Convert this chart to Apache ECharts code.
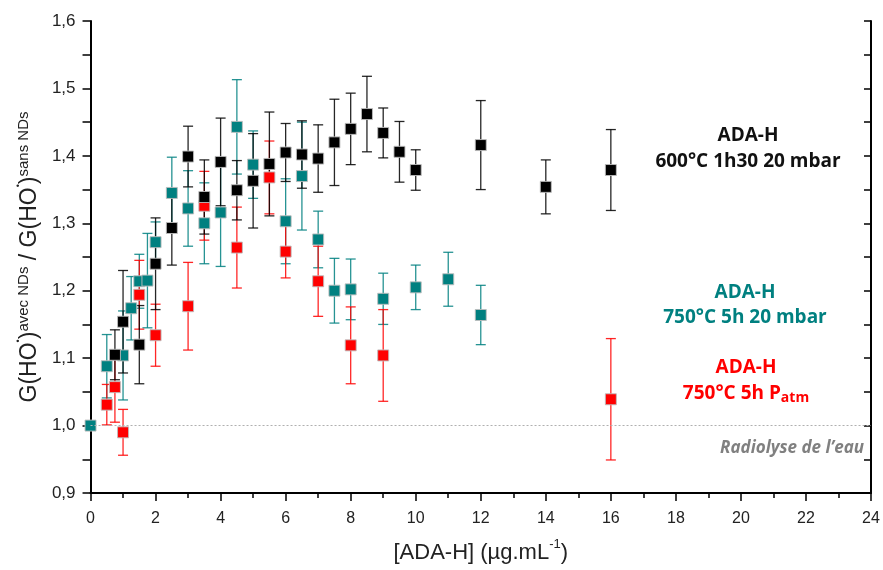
<!DOCTYPE html>
<html>
<head>
<meta charset="utf-8">
<script src="https://cdn.jsdelivr.net/npm/echarts@6/dist/echarts.min.js"></script>
<style>html,body{margin:0;padding:0;background:#fff}#c{width:883px;height:570px}</style>
</head>
<body>
<div id="c"></div>
<script>
// ---- Data (x = [ADA-H] µg/mL, y = ratio, e = error half-width) ----
var blackX = [0.75, 1, 1.5, 2, 2.5, 3, 3.5, 4, 4.5, 5, 5.5, 6, 6.5, 7, 7.5, 8, 8.5, 9, 9.5, 10, 12, 14, 16];
var blackY = [1.105, 1.154, 1.120, 1.240, 1.293, 1.399, 1.339, 1.391, 1.349, 1.363, 1.388, 1.405, 1.402, 1.396, 1.420, 1.440, 1.462, 1.434, 1.406, 1.379, 1.416, 1.354, 1.379];
var blackE = [0.037, 0.076, 0.058, 0.068, 0.055, 0.045, 0.055, 0.065, 0.044, 0.070, 0.077, 0.043, 0.050, 0.050, 0.064, 0.053, 0.056, 0.037, 0.045, 0.030, 0.066, 0.040, 0.060];

var tealX = [0, 0.5, 1, 1.25, 1.5, 1.75, 2, 2.5, 3, 3.5, 4, 4.5, 5, 6, 6.5, 7, 7.5, 8, 9, 10, 11, 12];
var tealY = [1.000, 1.088, 1.104, 1.174, 1.214, 1.215, 1.272, 1.345, 1.322, 1.300, 1.316, 1.443, 1.387, 1.303, 1.370, 1.276, 1.200, 1.202, 1.188, 1.205, 1.217, 1.164];
var tealE = [0.000, 0.047, 0.066, 0.047, 0.040, 0.070, 0.030, 0.053, 0.056, 0.060, 0.080, 0.070, 0.050, 0.063, 0.080, 0.042, 0.048, 0.045, 0.038, 0.033, 0.040, 0.044];

var redX = [0.5, 0.75, 1, 1.5, 2, 3, 3.5, 4.5, 5.5, 6, 7, 8, 9, 16];
var redY = [1.031, 1.057, 0.990, 1.194, 1.134, 1.177, 1.326, 1.264, 1.368, 1.258, 1.214, 1.119, 1.104, 1.039];
var redE = [0.030, 0.052, 0.034, 0.051, 0.046, 0.065, 0.051, 0.060, 0.054, 0.039, 0.052, 0.057, 0.068, 0.090];

var xTicks = [0, 2, 4, 6, 8, 10, 12, 14, 16, 18, 20, 22, 24];
var yTicks = [0.9, 1.0, 1.1, 1.2, 1.3, 1.4, 1.5, 1.6];
var waterRef = 1.0;

var cBlack = '#000000', cTeal = '#008080', cRed = '#ff0000';

function zip(xs, ys, es) { return xs.map(function (x, i) { return [x, ys[i], es[i]]; }); }

function errRender(color) {
  return function (params, api) {
    var x = api.value(0), y = api.value(1), e = api.value(2);
    if (!e) return null;
    var t = api.coord([x, y + e]), b = api.coord([x, y - e]);
    var w = 5;
    var st = { stroke: color, lineWidth: 1.3, opacity: 0.85 };
    return { type: 'group', children: [
      { type: 'line', shape: { x1: t[0], y1: t[1], x2: b[0], y2: b[1] }, style: st },
      { type: 'line', shape: { x1: t[0] - w, y1: t[1], x2: t[0] + w, y2: t[1] }, style: st },
      { type: 'line', shape: { x1: b[0] - w, y1: b[1], x2: b[0] + w, y2: b[1] }, style: st }
    ]};
  };
}

function errSeries(name, data, color) {
  return { name: name + ' err', type: 'custom', data: data, encode: { x: 0, y: 1 }, renderItem: errRender(color), silent: true, z: 2 };
}
function markSeries(name, data, color) {
  return { name: name, type: 'scatter', data: data, symbol: 'rect', symbolSize: 11,
    itemStyle: { color: color, borderColor: 'rgba(190,190,190,0.9)', borderWidth: 1, opacity: 1 }, z: 3 };
}

var fmtY = function (v) { return v.toFixed(1).replace('.', ','); };
var labelFont = 'Liberation Sans';
var annFont = 'Open Sans';

var chart = echarts.init(document.getElementById('c'), null, { renderer: 'canvas' });
var option = {
  animation: false,
  backgroundColor: '#fff',
  grid: { left: 90, right: 12, top: 21, bottom: 76, containLabel: false },
  xAxis: {
    type: 'value', min: 0, max: 24, interval: 2,
    name: '{t|[ADA-H] (µg.mL}{s|-1}{t|)}', nameLocation: 'middle', nameGap: 39,
    nameTextStyle: { rich: {
      t: { fontFamily: labelFont, fontSize: 22, lineHeight: 24, color: '#222', verticalAlign: 'top', padding: [10, 0, 0, 0] },
      s: { fontFamily: labelFont, fontSize: 13, lineHeight: 14, color: '#222', verticalAlign: 'top', padding: [6, 0, 14, 0] }
    } },
    axisLine: { onZero: false, lineStyle: { color: '#000', width: 2 } },
    axisTick: { show: true, inside: false, length: 8, lineStyle: { color: '#000', width: 1.5 } },
    minorTick: { show: true, splitNumber: 2, length: 5, lineStyle: { color: '#000', width: 1.5 } },
    axisLabel: { margin: 18, fontFamily: labelFont, fontSize: 16, color: '#222' },
    splitLine: { show: false }
  },
  yAxis: [{
    type: 'value', min: 0.9, max: 1.6, interval: 0.1, position: 'left',
    name: '{t|G(HO}{d|•}{t|)}{s|avec NDs}{t| / G(HO}{d|•}{t|)}{s|sans NDs}',
    nameLocation: 'middle', nameGap: 47, nameRotate: 90,
    nameTextStyle: { rich: {
      t: { fontFamily: labelFont, fontSize: 23, lineHeight: 24, color: '#222', verticalAlign: 'top', padding: [10, 0, 0, 0] },
      d: { fontFamily: labelFont, fontSize: 9, lineHeight: 10, color: '#222', verticalAlign: 'top', padding: [6, 0, 18, 0] },
      s: { fontFamily: labelFont, fontSize: 15, lineHeight: 16, color: '#222', verticalAlign: 'top', padding: [8, 0, 10, 0] }
    } },
    axisLine: { show: true, onZero: false, lineStyle: { color: '#000', width: 2 } },
    axisTick: { show: true, inside: false, length: 8, lineStyle: { color: '#000', width: 1.5 } },
    minorTick: { show: true, splitNumber: 2, length: 8, lineStyle: { color: '#000', width: 1.5 } },
    axisLabel: { margin: 15, fontFamily: labelFont, fontSize: 17, color: '#222', formatter: fmtY },
    splitLine: { show: false }
  }, {
    type: 'value', min: 0.9, max: 1.6, interval: 0.1, position: 'right',
    axisLine: { show: true, onZero: false, lineStyle: { color: '#000', width: 2 } },
    axisTick: { show: true, inside: true, length: 7, lineStyle: { color: '#000', width: 1.5 } },
    minorTick: { show: true, splitNumber: 2, length: 7, lineStyle: { color: '#000', width: 1.5 } },
    axisLabel: { show: false },
    splitLine: { show: false }
  }],
  series: [
    { name: 'ref', type: 'line', data: [], markLine: { silent: true, symbol: 'none', label: { show: false },
        lineStyle: { color: '#b0b0b0', type: [2, 2], width: 1 }, data: [{ yAxis: waterRef }] }, z: 1 },
    errSeries('teal', zip(tealX, tealY, tealE), cTeal),
    markSeries('ADA-H 750°C 5h 20 mbar', zip(tealX, tealY, tealE), cTeal),
    errSeries('red', zip(redX, redY, redE), cRed),
    markSeries('ADA-H 750°C 5h Patm', zip(redX, redY, redE), cRed),
    errSeries('black', zip(blackX, blackY, blackE), cBlack),
    markSeries('ADA-H 600°C 1h30 20 mbar', zip(blackX, blackY, blackE), cBlack)
  ],
  graphic: [
    { type: 'text', x: 748, y: 136, style: { text: 'ADA-H', fill: '#111', font: 'bold 19px "Open Sans"', align: 'center', verticalAlign: 'middle' } },
    { type: 'text', x: 748, y: 162, style: { text: '600°C 1h30 20 mbar', fill: '#111', font: 'bold 19px "Open Sans"', align: 'center', verticalAlign: 'middle' } },
    { type: 'text', x: 745, y: 293, style: { text: 'ADA-H', fill: cTeal, font: 'bold 19px "Open Sans"', align: 'center', verticalAlign: 'middle' } },
    { type: 'text', x: 745, y: 318, style: { text: '750°C 5h 20 mbar', fill: cTeal, font: 'bold 19px "Open Sans"', align: 'center', verticalAlign: 'middle' } },
    { type: 'text', x: 746, y: 368, style: { text: 'ADA-H', fill: cRed, font: 'bold 19px "Open Sans"', align: 'center', verticalAlign: 'middle' } },
    { type: 'text', x: 746, y: 394, style: {
        text: '{a|750°C 5h P}{b|atm}', align: 'center', verticalAlign: 'middle',
        rich: { a: { fill: cRed, fontFamily: annFont, fontWeight: 'bold', fontSize: 19 },
                b: { fill: cRed, fontFamily: annFont, fontWeight: 'bold', fontSize: 14, verticalAlign: 'bottom', padding: [9, 0, 0, 0] } } } },
    { type: 'text', x: 864, y: 448, style: { text: 'Radiolyse de l\u2019eau', fill: '#808080', font: 'italic bold 17px "Open Sans"', align: 'right', verticalAlign: 'middle' } }
  ]
};
chart.setOption(option);
</script>
</body>
</html>
